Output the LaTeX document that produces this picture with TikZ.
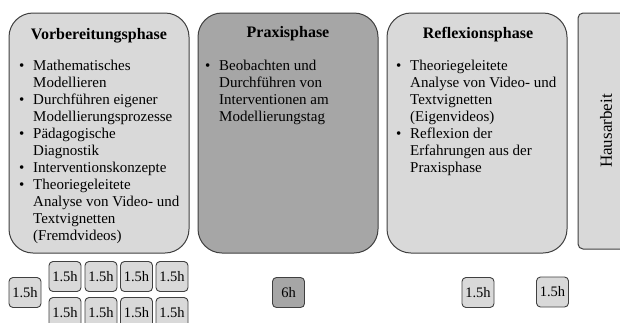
\documentclass[tikz,border=0pt]{standalone}
\usepackage{fontspec}
\setmainfont{Liberation Serif}
\definecolor{lightph}{HTML}{D9D9D9}
\definecolor{darkph}{HTML}{A6A6A6}
\definecolor{bordc}{HTML}{404040}
\newcommand\bul{\makebox[14pt][l]{\textbullet}}
\begin{document}
\begin{tikzpicture}[x=1pt,y=-1pt,
  phase/.style={draw=bordc, line width=1pt, rounded corners=24pt, minimum width=180pt, minimum height=240pt, inner sep=0pt},
  phtitle/.style={font=\fontsize{16}{19}\selectfont\bfseries, inner sep=0pt, anchor=base},
  phbody/.style={font=\fontsize{15}{17}\selectfont, inner sep=0pt, anchor=base west},
  hours/.style={draw=bordc, fill=lightph, line width=0.9pt, rounded corners=4pt, minimum width=32pt, minimum height=30pt, inner sep=0pt, font=\fontsize{14.5}{16}\selectfont}]
\clip (0,0) rectangle (620,322);
\fill[white] (0,0) rectangle (620,322);
% phase boxes
\node[phase, fill=lightph] (b1) at (99,133) {};
\node[phase, fill=darkph] (b2) at (288,133) {};
\node[phase, fill=lightph] (b3) at (477,133) {};
\node[draw=bordc, fill=lightph, line width=1pt, rounded corners=5pt, rotate=90, minimum width=236pt, minimum height=56pt, inner sep=0pt, font=\fontsize{17}{20}\selectfont] (h) at (606,131) {Hausarbeit};
% titles
\node[phtitle] (t1) at (99,39) {Vorbereitungsphase};
\node[phtitle] (t2) at (288,37) {Praxisphase};
\node[phtitle] (t3) at (478,38) {Reflexionsphase};
% bodies
\node[phbody] (l1) at (19,70) {\begin{tabular}[t]{@{}l@{}l@{}}
\bul & Mathematisches\\
 & Modellieren\\
\bul & Durchführen eigener\\
 & Modellierungsprozesse\\
\bul & Pädagogische\\
 & Diagnostik\\
\bul & Interventionskonzepte\\
\bul & Theoriegeleitete\\
 & Analyse von Video- und\\
 & Textvignetten\\
 & (Fremdvideos)
\end{tabular}};
\node[phbody] (l2) at (205,70) {\begin{tabular}[t]{@{}l@{}l@{}}
\bul & Beobachten und\\
 & Durchführen von\\
 & Interventionen am\\
 & Modellierungstag
\end{tabular}};
\node[phbody] (l3) at (396,70) {\begin{tabular}[t]{@{}l@{}l@{}}
\bul & Theoriegeleitete\\
 & Analyse von Video- und\\
 & Textvignetten\\
 & (Eigenvideos)\\
\bul & Reflexion der\\
 & Erfahrungen aus der\\
 & Praxisphase
\end{tabular}};
% hour boxes
\node[hours] (s0) at (25,292.5) {1.5h};
\node[hours] (g11) at (65,276.5) {1.5h};
\node[hours] (g12) at (101,276.5) {1.5h};
\node[hours] (g13) at (136.5,276.5) {1.5h};
\node[hours] (g14) at (172,276.5) {1.5h};
\node[hours] (g21) at (65,312.5) {1.5h};
\node[hours] (g22) at (101,312.5) {1.5h};
\node[hours] (g23) at (136.5,312.5) {1.5h};
\node[hours] (g24) at (172,312.5) {1.5h};
\node[hours, fill=darkph] (p6) at (288.5,292.5) {6h};
\node[hours] (r1) at (478,292.5) {1.5h};
\node[hours] (r2) at (552.5,292) {1.5h};
\end{tikzpicture}
\end{document}
